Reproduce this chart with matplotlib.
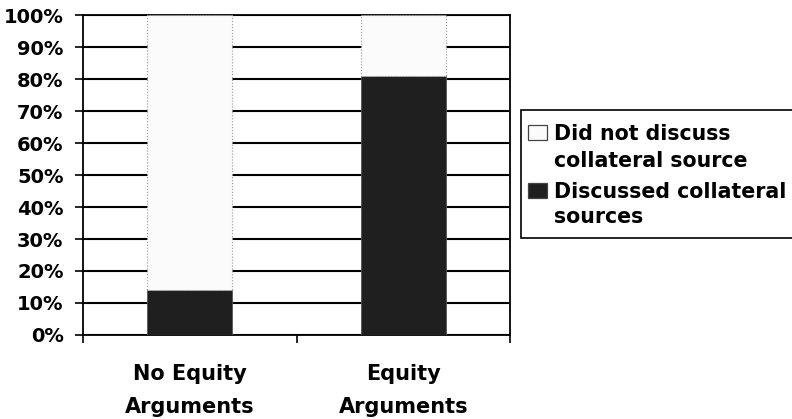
import matplotlib
matplotlib.use("Agg")
import matplotlib.pyplot as plt
from matplotlib.patches import Rectangle

categories = ["No Equity\nArguments", "Equity\nArguments"]
discussed = [14, 81]
not_discussed = [86, 19]
series_labels = ["Did not discuss\ncollateral source", "Discussed collateral\nsources"]
yticks = [0, 10, 20, 30, 40, 50, 60, 70, 80, 90, 100]

plt.rcParams['font.family'] = ['DejaVu Sans']
plt.rcParams['font.weight'] = 'bold'

W, H = 792, 419
fig = plt.figure(figsize=(W/100, H/100), dpi=100)
ax = fig.add_axes([83/W, 1 - 335/H, (510 - 83)/W, (335 - 15)/H])

x = list(range(len(categories)))
dark = '#1f1f1f'
light = '#fbfbfb'
ax.bar(x, discussed, width=0.4, color=dark, edgecolor='#555555', linewidth=0.6, zorder=3)
ax.bar(x, not_discussed, bottom=discussed, width=0.4, color=light, edgecolor='#999999',
       linewidth=0.8, linestyle=':', zorder=3)

ax.set_xlim(-0.5, 1.5)
ax.set_ylim(0, 100)
ax.set_yticks(yticks)
ax.set_yticklabels([f"{v}%" for v in yticks], fontsize=14, fontweight='bold')
for v in yticks:
    ax.axhline(v, color='black', linewidth=1.5, zorder=1)

ax.set_xticks(x)
ax.set_xticklabels(categories, fontsize=15, fontweight='bold', linespacing=1.8)
ax.tick_params(axis='x', which='major', length=0, pad=21)
ax.set_xticks([-0.5, 0.5, 1.5], minor=True)
ax.tick_params(axis='x', which='minor', length=6, width=1.2, direction='out', color='black')
ax.tick_params(axis='y', length=6, width=1.2, direction='out', pad=8)

for s in ax.spines.values():
    s.set_color('black')
    s.set_linewidth(1.3)

# Legend drawn manually (frame, square handles aligned with first text line)
def fx(px):
    return px / W

def fy(py):
    return 1 - py / H

frame = Rectangle((fx(521), fy(238)), fx(800) - fx(521), fy(110) - fy(238),
                  transform=fig.transFigure, facecolor='white', edgecolor='black',
                  linewidth=1.2, zorder=5)
fig.patches.append(frame)

legend_colors = [light, dark]
line_baselines = [[140, 167], [198, 223]]
for label, col, bases in zip(series_labels, legend_colors, line_baselines):
    sq = Rectangle((fx(528), fy(bases[0])), fx(547) - fx(528), fy(bases[0] - 15) - fy(bases[0]),
                   transform=fig.transFigure, facecolor=col, edgecolor='#444444',
                   linewidth=0.9, zorder=6)
    fig.patches.append(sq)
    for line, b in zip(label.split("\n"), bases):
        fig.text(fx(554), fy(b), line, fontsize=14.8, fontweight='bold',
                 ha='left', va='baseline', zorder=7)

fig.savefig("out.png", dpi=100)
